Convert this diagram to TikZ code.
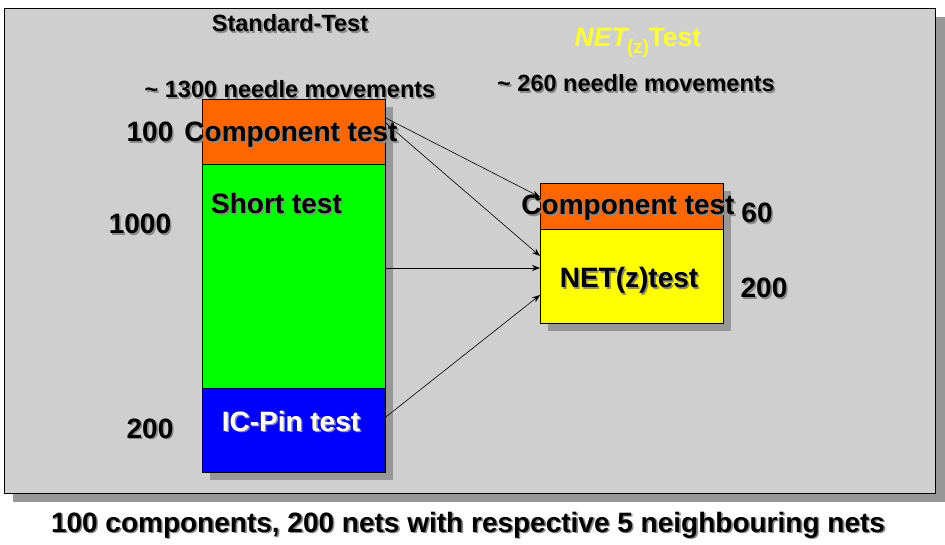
\documentclass[tikz,border=0pt]{standalone}
\usepackage{fontspec}
\setmainfont{Liberation Sans}
\usetikzlibrary{arrows.meta,calc}
\definecolor{panelgray}{HTML}{CFCFCF}
\definecolor{shadowgray}{HTML}{979797}
\definecolor{orangeF}{HTML}{FF6600}
\definecolor{greenF}{HTML}{00FF00}
\definecolor{blueF}{HTML}{0000FF}
\definecolor{yellowF}{HTML}{FFFF00}
\definecolor{titleyellow}{HTML}{FFFF33}
\definecolor{txtsh}{HTML}{8A8A8A}
\newcommand{\shd}[1]{\makebox[0pt][l]{\hspace{1.6pt}\raisebox{-1.6pt}{\textcolor{txtsh}{#1}}}#1}
\tikzset{
  box/.style={draw, line width=0.8pt, anchor=north west, inner sep=0pt, minimum width=183pt},
  lbl/.style={anchor=base, inner sep=0pt, font=\bfseries\fontsize{28}{30}\selectfont},
  mlbl/.style={anchor=base, inner sep=0pt, font=\bfseries\fontsize{23.5}{26}\selectfont},
  conn/.style={line width=0.6pt, -{Stealth[length=8pt,width=6pt]}},
}
\begin{document}
\begin{tikzpicture}[x=1pt,y=-1pt]
\useasboundingbox (0,0) rectangle (945,545);
\fill[white] (0,0) rectangle (945,545);
% panel with shadow
\fill[shadowgray] (13,17) rectangle (945,502);
\node[draw, line width=0.8pt, fill=panelgray, anchor=north west, inner sep=0pt,
      minimum width=931pt, minimum height=485pt] (panel) at (4,8) {};
% box shadows
\fill[shadowgray] (210,107) rectangle (393,480);
\fill[shadowgray] (548,191) rectangle (731,331);
% left column
\node[box, fill=orangeF, minimum height=65pt] (oL) at (202,99) {};
\node[box, fill=greenF, minimum height=224pt] (gL) at (202,164) {};
\node[box, fill=blueF, minimum height=84pt] (bL) at (202,388) {};
% right column
\node[box, fill=orangeF, minimum height=46pt] (oR) at (540,183) {};
\node[box, fill=yellowF, minimum height=94pt] (yR) at (540,229) {};
% connectors
\draw[conn] ([yshift=-19pt]oL.north east) -- ([yshift=-14pt]oR.north west);
\draw[conn] ([yshift=-24pt]oL.north east) -- ([yshift=-27pt]yR.north west);
\draw[conn] ([yshift=-104pt]gL.north east) -- ([yshift=-39pt]yR.north west);
\draw[conn] ([yshift=-29pt]bL.north east) -- ([yshift=-66pt]yR.north west);
% texts
\node[mlbl, font=\bfseries\fontsize{23.5}{25}\selectfont] (tStd) at (290,32) {\shd{Standard-Test}};
\node[mlbl] (tMovL) at (290,98) {\shd{\textasciitilde\ 1300 needle movements}};
\node[lbl] (n100) at (150,142) {\shd{100}};
\node[lbl] (tCompL) at (291,142) {\shd{Component test}};
\node[lbl, anchor=base west] (tShort) at (211,214) {\shd{Short test}};
\node[lbl] (n1000) at (140,234) {\shd{1000}};
\node[lbl, text=white] (tIC) at (291,431) {\shd{IC-Pin test}};
\node[lbl] (n200L) at (150,438) {\shd{200}};
\node[mlbl, text=titleyellow, font=\bfseries\fontsize{26.5}{28}\selectfont] (tNet) at (638,47)
  {\textit{NET}\kern-2.5pt\raisebox{-7pt}{\bfseries\fontsize{19}{19}\selectfont(z)}\kern-0.5pt Test};
\node[mlbl] (tMovR) at (636,92) {\shd{\textasciitilde\ 260 needle movements}};
\node[lbl] (tCompR) at (628,215) {\shd{Component test}};
\node[lbl] (n60) at (757,223) {\shd{60}};
\node[lbl] (tNetT) at (629,288) {\shd{NET(z)test}};
\node[lbl] (n200R) at (764,298) {\shd{200}};
\node[lbl] (tBottom) at (468,532) {\shd{100 components, 200 nets with respective 5 neighbouring nets}};
\end{tikzpicture}
\end{document}
